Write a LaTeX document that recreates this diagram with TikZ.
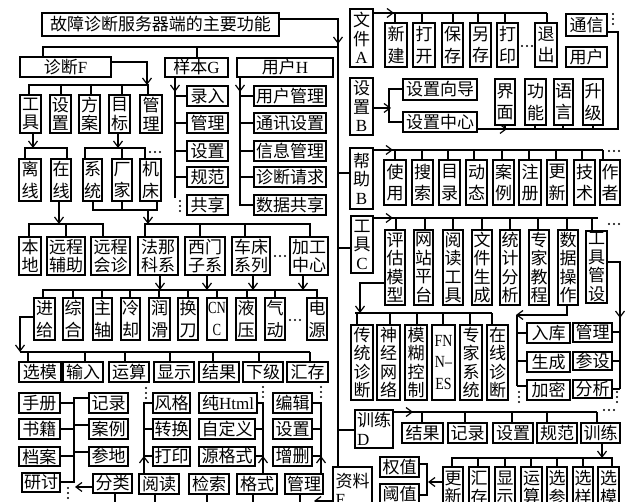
\documentclass[tikz,border=0pt]{standalone}
\usepackage{fontspec}
\setmainfont{Noto Sans CJK SC}
\newfontfamily\lat{Liberation Serif}
\usepackage{graphicx}
\usetikzlibrary{arrows.meta}
\tikzset{
  bx/.style={draw, line width=1.3pt, inner sep=0pt, align=center, font=\fontsize{17}{18.5}\selectfont},
  sp/.style={font=\fontsize{17}{21.5}\selectfont},
  ln/.style={line width=1.2pt},
  arr/.style={line width=1.2pt, -{Straight Barb[length=6pt,width=9pt]}},
}
\newcommand\bxn[7][]{\node[bx,#1,minimum width={#5-#3},minimum height={#6-#4}] (#2) at ({(#3+#5)/2},{(#4+#6)/2}) {#7};}
\newcommand\dotsH[2]{\foreach \k in {0,1,2}{\fill ({#1+\k*5},#2) circle (1.1pt);}}
\newcommand\dotsV[2]{\foreach \k in {0,1,2}{\fill (#1,{#2+\k*5}) circle (1.1pt);}}
\begin{document}
\begin{tikzpicture}[x=1pt,y=-1pt]
\useasboundingbox (0,0) rectangle (630,502);
\fill[white] (0,0) rectangle (630,502);
\clip (0,0) rectangle (630,502);

% ---------- title and trunk
\bxn{T}{42}{13}{279}{36}{故障诊断服务器端的主要功能}
\draw[arr] (279,19) -| (338,44);
\draw[ln] (338,42) -- (338,467);
\draw[ln] (43,57) |- (338,47);
\draw[ln] (197,47) -- (197,58);

% ---------- left block
\bxn{zdF}{20}{57}{111}{77}{诊断{\lat F}}
\bxn{ybG}{165}{58}{228}{77}{样本{\lat G}}
\bxn{yhH}{237}{58}{333}{77}{用户{\lat H}}

\draw[arr] (111,62) -| (147,85);
\draw[ln] (29,95) |- (148,85) -- (148,95);
\foreach \x in {61,91,122} \draw[ln] (\x,85) -- (\x,95);

\bxn{gj}{20}{95}{41}{133}{工\\具}
\bxn{szA}{50}{95}{71}{133}{设\\置}
\bxn{fa}{79}{95}{100}{133}{方\\案}
\bxn{mb}{109}{95}{130}{133}{目\\标}
\bxn{glA}{140}{95}{162}{133}{管\\理}

% sample G
\draw[arr] (175,77) -- (175,92);
\draw[ln] (175,90) -- (175,198);
\foreach \y in {96,123,151,177} \draw[ln] (175,\y) -- (187,\y);
\dotsV{180}{201}
\bxn{lr}{187}{86}{228}{106}{录入}
\bxn{glG}{187}{113}{228}{133}{管理}
\bxn{szG}{187}{141}{228}{161}{设置}
\bxn{gfG}{187}{167}{228}{187}{规范}
\bxn{gxG}{187}{195}{228}{215}{共享}

% user H
\draw[arr] (240,77) -- (240,92);
\draw[ln] (240,90) -- (240,205) -- (254,205);
\foreach \y in {96,123,151,177} \draw[ln] (240,\y) -- (254,\y);
\bxn{yhgl}{254}{86}{326}{106}{用户管理}
\bxn{txsz}{254}{113}{326}{133}{通讯设置}
\bxn{xxgl}{254}{141}{326}{161}{信息管理}
\bxn{zdqq}{254}{167}{326}{187}{诊断请求}
\bxn{sjgx}{254}{195}{326}{215}{数据共享}

% row 3
\draw[arr] (33,133) -- (33,148);
\draw[ln] (25,159) |- (67,148) -- (67,159);
\draw[arr] (118,133) -- (118,148);
\draw[ln] (85,159) |- (145,148) -- (145,159);
\draw[ln] (122,148) -- (122,159);
\dotsH{150}{152}
\bxn[sp]{lx}{19}{159}{41}{201}{离\\线}
\bxn[sp]{zx}{51}{159}{71}{201}{在\\线}
\bxn[sp]{xt}{83}{159}{102}{201}{系\\统}
\bxn[sp]{cj}{112}{159}{132}{201}{厂\\家}
\bxn[sp]{jc}{140}{159}{161}{201}{机\\床}

% row 3 -> 4
\draw[arr] (59,201) -- (59,224);
\draw[ln] (29,237) |- (103,224) -- (103,237);
\draw[ln] (66,224) -- (66,237);
\draw[ln] (93,201) |- (157,210) -- (157,201);
\draw[ln] (122,201) -- (122,210);
\draw[arr] (148,210) -- (148,224);
\draw[ln] (145,237) |- (310,224) -- (310,237);
\foreach \x in {200,245} \draw[ln] (\x,224) -- (\x,237);

% row 4
\bxn{bd}{19}{237}{41}{275}{本\\地}
\bxn{ycfz}{47}{237}{85}{275}{远程\\辅助}
\bxn{ychz}{91}{237}{130}{275}{远程\\会诊}
\bxn{fnk}{138}{237}{178}{275}{法那\\科系}
\bxn{xmz}{185}{237}{225}{275}{西门\\子系}
\bxn{ccx}{232}{237}{270}{275}{车床\\系列}
\dotsH{275}{256}
\bxn{jgzx}{290}{237}{328}{275}{加工\\中心}

% row 4 -> 5
\foreach \x in {160,207,253,303} \draw[arr] (\x,275) -- (\x,290);
\draw[ln] (43,298) |- (317,290) -- (317,298);
\foreach \x in {73,102,130,159,188,217,247,275} \draw[ln] (\x,290) -- (\x,298);

% row 5
\bxn[sp]{jgei}{34}{298}{55}{340}{进\\给}
\bxn[sp]{zhe}{63}{298}{83}{340}{综\\合}
\bxn[sp]{zz}{93}{298}{112}{340}{主\\轴}
\bxn[sp]{lq}{121}{298}{140}{340}{冷\\却}
\bxn[sp]{rh}{149}{298}{170}{340}{润\\滑}
\bxn[sp]{hd}{178}{298}{198}{340}{换\\刀}
\bxn[sp]{cnc}{207}{298}{227}{340}{\scalebox{0.75}[1]{\lat CN}\\\scalebox{0.75}[1]{\lat C}}
\bxn[sp]{yy}{236}{298}{256}{340}{液\\压}
\bxn[sp]{qd}{265}{298}{285}{340}{气\\动}
\dotsH{290}{320}
\bxn[sp]{dy}{307}{298}{327}{340}{电\\源}

% row 5 -> 6
\draw[arr] (34,317) -| (20,352);
\draw[ln] (20,352) -- (310,352);
\foreach \x in {28,85,125,170,213,259,310} \draw[ln] (\x,352) -- (\x,362);

% row 6
\bxn{xmo}{19}{362}{61}{382}{选模}
\bxn{sr}{63}{362}{103}{382}{输入}
\bxn{ys}{109}{362}{149}{382}{运算}
\bxn{xs}{154}{362}{194}{382}{显示}
\bxn{jgo}{199}{362}{239}{382}{结果}
\bxn{xj}{243}{362}{283}{382}{下级}
\bxn{hc}{287}{362}{328}{382}{汇存}

% row 7 left group
\bxn{sc}{19}{393}{60}{413}{手册}
\bxn{sji}{19}{419}{60}{439}{书籍}
\bxn{da}{19}{447}{60}{466}{档案}
\bxn{yt}{22}{473}{60}{492}{研讨}
\bxn{jl}{89}{393}{128}{413}{记录}
\bxn{al}{89}{419}{128}{439}{案例}
\bxn{cd}{89}{447}{128}{466}{参地}
\bxn{fl}{93}{474}{132}{493}{分类}
\draw[ln] (89,398) -| (74,483);
\foreach \y in {403,429,456,482} \draw[ln] (60,\y) -- (74,\y);
\foreach \y in {425,452} \draw[ln] (74,\y) -- (89,\y);
\draw[arr] (93,487) -- (75,487);
\dotsV{68}{488}

% middle group
\bxn{fg}{153}{393}{190}{413}{风格}
\bxn{zhh}{153}{419}{190}{439}{转换}
\bxn{dyA}{153}{447}{190}{466}{打印}
\bxn{yd}{139}{474}{179}{494}{阅读}
\draw[ln] (153,403) -| (144,474);
\foreach \y in {429,456} \draw[ln] (153,\y) -- (144,\y);
\draw[arr] (144,474) -- (144,456);
\dotsV{146}{388}

\bxn{html}{199}{393}{257}{413}{纯{\lat Html}}
\bxn{zdy}{199}{419}{255}{439}{自定义}
\bxn{ygs}{199}{447}{255}{466}{源格式}
\bxn{js}{189}{474}{229}{494}{检索}
\bxn{gs}{237}{474}{277}{494}{格式}
\draw[ln] (257,403) -| (263,474);
\foreach \y in {429,456} \draw[ln] (255,\y) -- (263,\y);
\draw[arr] (263,474) -- (263,456);
\dotsV{263}{387}

\bxn{bj}{273}{393}{312}{413}{编辑}
\bxn{szC}{273}{419}{312}{439}{设置}
\bxn{zs}{273}{447}{312}{466}{增删}
\bxn{glB}{285}{474}{323}{494}{管理}
\draw[ln] (312,403) -| (321,474);
\foreach \y in {429,456} \draw[ln] (312,\y) -- (321,\y);
\draw[arr] (321,474) -- (321,456);
\dotsV{321}{387}

\foreach \x in {115,155,207,253,300} \draw[ln] (\x,493) -- (\x,503);
\draw[arr] (333,501) -- (314,501);

% ---------- right block
\bxn{wjA}{350}{9}{373}{67}{文\\件\\{\lat A}}
\draw[arr] (373,13) -- (394,13);
\draw[ln] (392,13) -- (547,13);
\foreach \x in {395,422,453,478,505,547} \draw[ln] (\x,13) -- (\x,23);
\bxn[sp]{xjA}{385}{23}{407}{67}{新\\建}
\bxn[sp]{dk}{413}{23}{435}{67}{打\\开}
\bxn[sp]{bc}{442}{23}{463}{67}{保\\存}
\bxn[sp]{lc}{470}{23}{491}{67}{另\\存}
\bxn[sp]{dyB}{497}{23}{518}{67}{打\\印}
\dotsH{522}{46}
\bxn[sp]{tc}{535}{23}{557}{67}{退\\出}
\bxn{tx}{566}{14}{607}{36}{通信}
\dotsV{613}{14}
\bxn{yhB}{566}{47}{607}{67}{用户}
\draw[ln] (607,32) -| (618,129) -- (505,129);
\foreach \x in {505,535,563,593} \draw[ln] (\x,125) -- (\x,129);
\draw[arr] (477,129) -- (507,129);

\bxn{szB}{350}{78}{373}{135}{设\\置\\{\lat B}}
\draw[arr] (373,108) -- (391,108);
\draw[ln] (403,89) -| (389,122) -- (403,122);
\bxn{szxd}{403}{79}{477}{100}{设置向导}
\bxn{szzx}{403}{112}{477}{132}{设置中心}
\bxn[sp]{jm}{495}{79}{515}{125}{界\\面}
\bxn[sp]{gn}{525}{79}{546}{125}{功\\能}
\bxn[sp]{yyB}{554}{79}{573}{125}{语\\言}
\bxn[sp]{sjB}{583}{79}{603}{125}{升\\级}

% help B
\draw[ln] (338,173) -- (350,173);
\bxn{bzB}{350}{148}{373}{209}{帮\\助\\{\lat B}}
\draw[arr] (373,150) -- (393,150);
\draw[ln] (391,150) -- (603,150);
\foreach \x in {395,422,448,474,502,529,556,582,603} \draw[ln] (\x,150) -- (\x,160);
\dotsH{609}{151}
\bxn[sp]{syB}{384}{160}{406}{205}{使\\用}
\bxn[sp]{ssB}{412}{160}{433}{205}{搜\\索}
\bxn[sp]{mlB}{439}{160}{460}{205}{目\\录}
\bxn[sp]{dtB}{466}{160}{487}{205}{动\\态}
\bxn[sp]{alB}{493}{160}{514}{205}{案\\例}
\bxn[sp]{zcB}{519}{160}{541}{205}{注\\册}
\bxn[sp]{gxB}{547}{160}{567}{205}{更\\新}
\bxn[sp]{jsB}{574}{160}{595}{205}{技\\术}
\bxn[sp]{zzB}{600}{160}{620}{205}{作\\者}

% tools C
\draw[ln] (338,248) -- (351,248);
\bxn{gjC}{351}{216}{373}{273}{工\\具\\{\lat C}}
\draw[arr] (373,218) -- (393,218);
\draw[ln] (391,218) -- (598,218);
\foreach \x in {396,425,453,482,510,538,567,592} \draw[ln] (\x,218) -- (\x,230);
\dotsH{609}{224}
\bxn{pg}{385}{230}{405}{305}{评\\估\\模\\型}
\bxn{wz}{414}{230}{433}{305}{网\\站\\平\\台}
\bxn{ydgj}{443}{230}{463}{305}{阅\\读\\工\\具}
\bxn{wjsc}{472}{230}{492}{305}{文\\件\\生\\成}
\bxn{tjfx}{500}{230}{520}{305}{统\\计\\分\\析}
\bxn{zjjc}{529}{230}{549}{305}{专\\家\\教\\程}
\bxn{sjcz}{558}{230}{578}{305}{数\\据\\操\\作}
\bxn{gjgs}{586}{231}{607}{303}{工\\具\\管\\设}

\draw[arr] (385,283) -| (360,313);
\draw[ln] (355,313) -- (492,313);
\foreach \x in {357,390,417,443,470,492} \draw[ln] (\x,313) -- (\x,325);
\bxn{ctzd}{351}{325}{373}{400}{传\\统\\诊\\断}
\bxn{sjwl}{377}{325}{400}{400}{神\\经\\网\\络}
\bxn{mhkz}{405}{325}{427}{400}{模\\糊\\控\\制}
\bxn{fnes}{432}{325}{455}{400}{\scalebox{0.82}[1]{\lat FN}\\[3pt]\scalebox{0.82}[1]{\lat N–}\\[3pt]\scalebox{0.82}[1]{\lat ES}}
\bxn{zjxt}{460}{325}{482}{400}{专\\家\\系\\统}
\bxn{zxzd}{487}{325}{508}{400}{在\\线\\诊\\断}

\draw[arr] (567,305) |- (516,315);
\draw[ln] (517,315) -- (517,386);
\foreach \y in {333,361,386} \draw[ln] (517,\y) -- (527,\y);
\dotsV{519}{392}
\bxn{rk}{527}{323}{570}{343}{入库}
\bxn{scC}{527}{352}{570}{372}{生成}
\bxn{jmC}{527}{380}{570}{400}{加密}

\draw[arr] (607,262) -| (620,318);
\draw[ln] (620,316) -- (620,389);
\foreach \y in {332,361,389} \draw[ln] (612,\y) -- (620,\y);
\dotsV{617}{392}
\bxn{glD}{573}{323}{612}{342}{管理}
\bxn{csD}{573}{352}{612}{370}{参设}
\bxn{fxD}{573}{380}{612}{398}{分析}

% training D
\draw[ln] (338,430) -- (355,430);
\bxn[align=left]{pxD}{355}{410}{393}{448}{训练\\{\lat D}}
\draw[arr] (393,412) -- (413,412);
\draw[ln] (411,412) -- (597,412);
\foreach \x in {422,465,512,547,597} \draw[ln] (\x,412) -- (\x,423);
\dotsH{604}{410}
\bxn{jgD}{402}{423}{443}{443}{结果}
\bxn{jlD}{448}{423}{487}{443}{记录}
\bxn{szD}{493}{423}{533}{443}{设置}
\bxn{gfD}{537}{423}{577}{443}{规范}
\bxn{pxx}{581}{423}{620}{443}{训练}

\draw[arr] (602,443) -- (602,458);
\draw[ln] (452,467) |- (612,458) -- (612,467);
\foreach \x in {478,505,531,557,583} \draw[ln] (\x,458) -- (\x,467);
\bxn{gxE}{443}{467}{463}{508}{更\\新}
\bxn{hcE}{469}{467}{489}{508}{汇\\存}
\bxn{xsE}{495}{467}{515}{508}{显\\示}
\bxn{ysE}{521}{467}{542}{508}{运\\算}
\bxn{xcE}{547}{467}{567}{508}{选\\参}
\bxn{xyE}{573}{467}{593}{508}{选\\样}
\bxn{xmE}{598}{467}{619}{508}{选\\模}

\bxn{qz}{380}{457}{419}{477}{权值}
\bxn{yz}{380}{484}{419}{504}{阈值}
\draw[ln] (419,464) -| (427,495) -- (419,495);
\draw[arr] (443,482) -- (428,482);

\bxn[align=left]{zlE}{333}{467}{372}{512}{资料\\{\lat E}}
\end{tikzpicture}
\end{document}
